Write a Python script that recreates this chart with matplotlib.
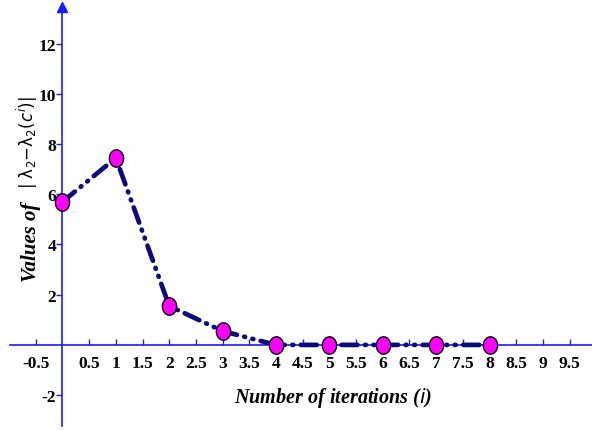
import matplotlib
matplotlib.use("Agg")
import matplotlib.pyplot as plt
import numpy as np
from matplotlib.path import Path

# iteration index and |lambda2 - lambda2(c^i)| per iteration
iterations = [0, 1, 2, 3, 4, 5, 6, 7, 8]
values = [5.7, 7.45, 1.55, 0.55, 0.0, 0.0, 0.0, 0.0, 0.0]

x_ticks = [-0.5, 0.5, 1, 1.5, 2, 2.5, 3, 3.5, 4, 4.5, 5, 5.5, 6, 6.5, 7, 7.5, 8, 8.5, 9, 9.5]
y_ticks = [-2, 2, 4, 6, 8, 10, 12]

AXIS_BLUE = "#1a1aff"
LINE_NAVY = "#0b0b7a"
TICK_FONT = "Liberation Serif"

# slightly tall ellipse marker
t = np.linspace(0, 2 * np.pi, 60)
ellipse = Path(np.column_stack([0.82 * np.cos(t), np.sin(t)]), closed=True)

fig = plt.figure(figsize=(5.92, 4.31), dpi=100)
ax = fig.add_axes([0, 0, 1, 1])
ax.set_xlim(-1.17, 9.92)
ax.set_ylim(-3.39, 13.78)

for side in ("top", "right"):
    ax.spines[side].set_visible(False)
for side in ("left", "bottom"):
    ax.spines[side].set_position("zero")
    ax.spines[side].set_color(AXIS_BLUE)
    ax.spines[side].set_linewidth(1.2)
ax.spines["left"].set_bounds(-3.25, 13.4)
ax.spines["bottom"].set_bounds(-0.98, 9.92)
ax.plot([0], [13.45], marker="^", color=AXIS_BLUE, markersize=7, clip_on=False, zorder=3)

ax.set_xticks(x_ticks)
ax.set_xticklabels([f"{v:g}" for v in x_ticks])
ax.set_yticks(y_ticks)
ax.set_yticklabels([f"{v:g}" for v in y_ticks])
ax.tick_params(axis="x", direction="in", length=4, width=1, color=AXIS_BLUE, pad=7)
ax.tick_params(axis="y", direction="out", length=4, width=1, color=AXIS_BLUE, pad=0.5)
for lbl in ax.get_xticklabels() + ax.get_yticklabels():
    lbl.set_fontfamily(TICK_FONT)
    lbl.set_fontweight("bold")
    lbl.set_fontsize(12.5)

line, = ax.plot(iterations, values, color=LINE_NAVY, linewidth=3.4,
                dash_capstyle="round", zorder=4)
line.set_dashes([3.4, 1.6, 0.2, 1.6, 0.2, 1.6])
ax.plot(iterations, values, linestyle="none", marker=ellipse, markersize=12.5,
        markerfacecolor="#ff00ff", markeredgecolor="black", markeredgewidth=1.0,
        zorder=5)

fig.text(0.5625, 0.077, r"Number of iterations ($\mathbf{\mathit{i}}$)",
         family=TICK_FONT, fontstyle="italic", fontweight="bold", fontsize=14.5,
         ha="center", va="center")

# y label: bold italic words followed by the smaller formula
fig.text(0.053, 0.345, "Values of", family=TICK_FONT, fontstyle="italic",
         fontweight="bold", fontsize=15, rotation=90, ha="center", va="bottom")
fig.text(0.046, 0.562, r"$|\ \mathrm{\lambda}_2{-}\mathrm{\lambda}_2(c^i)|$",
         fontsize=12, rotation=90, ha="center", va="bottom")

fig.savefig("out.png", dpi=100)
